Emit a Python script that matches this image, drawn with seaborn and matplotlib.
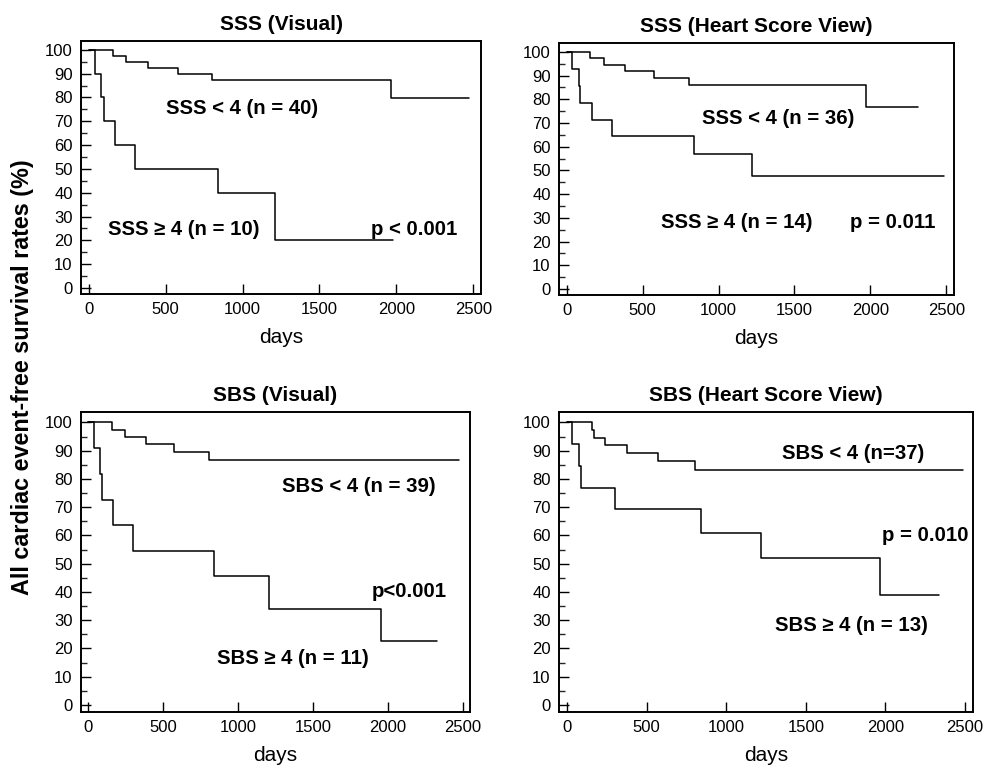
import matplotlib
matplotlib.use("Agg")
import matplotlib.pyplot as plt
import seaborn as sns
import pandas as pd
from matplotlib.ticker import MultipleLocator

# ---- data (days, survival %) ----
sss_vis_lo_t = [0, 158, 245, 383, 580, 803, 1965, 2474]
sss_vis_lo_s = [100, 97.5, 95, 92.5, 90, 87.2, 79.9, 79.9]
sss_vis_hi_t = [0, 39, 82, 97, 169, 301, 842, 1214, 1976]
sss_vis_hi_s = [100, 90, 80, 70, 60, 50, 40, 20, 20]

sss_hsv_lo_t = [0, 156, 244, 384, 575, 808, 1971, 2313]
sss_hsv_lo_s = [100, 97.2, 94.4, 91.7, 88.9, 85.8, 76.6, 76.6]
sss_hsv_hi_t = [0, 33, 79, 90, 165, 301, 841, 1218, 2482]
sss_hsv_hi_s = [100, 92.9, 85.7, 78.6, 71.4, 64.3, 57.1, 47.6, 47.6]

sbs_vis_lo_t = [0, 158, 244, 382, 571, 804, 2476]
sbs_vis_lo_s = [100, 97.4, 94.9, 92.3, 89.7, 86.6, 86.6]
sbs_vis_hi_t = [0, 36, 80, 91, 167, 300, 836, 1209, 1958, 2327]
sbs_vis_hi_s = [100, 90.9, 81.8, 72.7, 63.6, 54.5, 45.5, 34.1, 22.7, 22.7]

sbs_hsv_lo_t = [0, 157, 168, 241, 379, 572, 805, 2486]
sbs_hsv_lo_s = [100, 97.3, 94.6, 91.9, 89.2, 86.5, 83.3, 83.3]
sbs_hsv_hi_t = [0, 29, 75, 86, 300, 839, 1216, 1966, 2338]
sbs_hsv_hi_s = [100, 92.3, 84.6, 76.9, 69.2, 60.8, 52.0, 38.9, 38.9]

titles = ["SSS (Visual)", "SSS (Heart Score View)", "SBS (Visual)", "SBS (Heart Score View)"]
labels_lo = ["SSS < 4 (n = 40)", "SSS < 4 (n = 36)", "SBS < 4 (n = 39)", "SBS < 4 (n=37)"]
labels_hi = ["SSS \u2265 4 (n = 10)", "SSS \u2265 4 (n = 14)", "SBS \u2265 4 (n = 11)", "SBS \u2265 4 (n = 13)"]
pvals = ["p < 0.001", "p = 0.011", "p<0.001", "p = 0.010"]
x_ticks = [0, 500, 1000, 1500, 2000, 2500]
y_ticks = [0, 10, 20, 30, 40, 50, 60, 70, 80, 90, 100]

curves = [
    (sss_vis_lo_t, sss_vis_lo_s, sss_vis_hi_t, sss_vis_hi_s),
    (sss_hsv_lo_t, sss_hsv_lo_s, sss_hsv_hi_t, sss_hsv_hi_s),
    (sbs_vis_lo_t, sbs_vis_lo_s, sbs_vis_hi_t, sbs_vis_hi_s),
    (sbs_hsv_lo_t, sbs_hsv_lo_s, sbs_hsv_hi_t, sbs_hsv_hi_s),
]

# text positions (days, %) for labels: (lo label, hi label, p value)
text_pos = [
    [(1000, 75.5), (620, 24.5), (2115, 24.5)],
    [(1395, 72), (1120, 28), (2150, 28)],
    [(1810, 77.5), (1365, 16.5), (2145, 40)],
    [(1800, 89), (1785, 28), (2250, 60)],
]

sns.set_theme(style="ticks")
plt.rcParams['font.family'] = ['Liberation Sans', 'DejaVu Sans']
plt.rcParams['text.color'] = 'black'
plt.rcParams['axes.labelcolor'] = 'black'

W, H = 986, 770
fig = plt.figure(figsize=(W / 100, H / 100), dpi=100)

boxes = [
    (81, 481, 41, 294),
    (559, 954, 43, 295),
    (81, 470, 412, 712),
    (559, 973, 412, 712),
]

for i, (l, r, t, b) in enumerate(boxes):
    ax = fig.add_axes([l / W, (H - b) / H, (r - l) / W, (b - t) / H])
    lo_t, lo_s, hi_t, hi_s = curves[i]
    df = pd.concat([
        pd.DataFrame({"days": lo_t, "surv": lo_s, "grp": "lo"}),
        pd.DataFrame({"days": hi_t, "surv": hi_s, "grp": "hi"}),
    ], ignore_index=True)
    sns.lineplot(data=df, x="days", y="surv", units="grp", estimator=None,
                 sort=False, drawstyle="steps-post", color="black", lw=1.1,
                 ax=ax, legend=False)
    ax.set_xlim(-50, 2550)
    ax.set_ylim(-2.5, 103.7)
    ax.set_xticks(x_ticks)
    ax.set_yticks(y_ticks)
    ax.yaxis.set_minor_locator(MultipleLocator(5))
    ax.tick_params(axis="both", which="major", direction="in", length=7,
                   width=1, labelsize=12, colors="black", pad=6)
    ax.tick_params(axis="y", which="minor", direction="in", length=4, width=1)
    ax.tick_params(top=False, right=False)
    for sp in ax.spines.values():
        sp.set_linewidth(1.4)
        sp.set_color("black")
    ax.set_title(titles[i], fontsize=15, fontweight="bold", pad=8, color="black")
    ax.set_xlabel("days", fontsize=15, labelpad=8, color="black")
    ax.set_ylabel("")
    (x1, y1), (x2, y2), (x3, y3) = text_pos[i]
    for (xx, yy), s in zip(text_pos[i], [labels_lo[i], labels_hi[i], pvals[i]]):
        ax.text(xx, yy, s, ha="center", va="center", fontsize=14.7,
                fontweight="bold", color="black")

fig.text(23 / W, 1 - 377 / H, "All cardiac event-free survival rates (%)",
         rotation=90, ha="center", va="center", fontsize=16.8,
         fontweight="bold", color="black")

fig.savefig("out.png", dpi=100)
